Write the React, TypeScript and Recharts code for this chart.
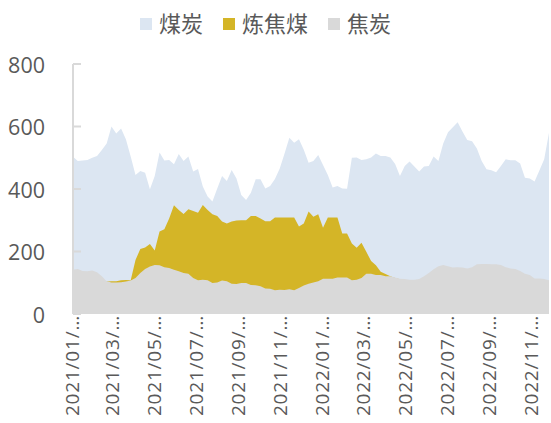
import React from "react";
import { AreaChart, Area, XAxis, YAxis } from "recharts";

// weekly observations, first one on 2021/01/01
const START = Date.UTC(2021, 0, 1);
const WEEK = 7 * 24 * 3600 * 1000;

const coal = [
  503, 490, 491, 493, 500, 506, 525, 546, 600, 578,
  594, 559, 504, 445, 458, 452, 399, 442, 517, 491,
  493, 479, 512, 490, 504, 456, 464, 408, 376, 360,
  402, 442, 426, 461, 434, 381, 365, 388, 431, 431,
  402, 410, 432, 466, 514, 564, 548, 559, 526, 484,
  490, 509, 477, 445, 405, 410, 402, 401, 500, 501,
  493, 495, 501, 514, 506, 506, 501, 480, 442, 474,
  488, 472, 456, 472, 474, 504, 490, 546, 582, 598,
  614, 584, 557, 553, 530, 490, 463, 460, 454, 474,
  495, 492, 492, 482, 436, 434, 424, 459, 495, 580,
];

const cokingCoal = [
  98, 97, 99, 98, 97, 99, 101, 104, 105, 105,
  108, 109, 108, 173, 208, 213, 224, 203, 264, 271,
  306, 348, 333, 320, 335, 330, 324, 349, 333, 319,
  314, 296, 290, 296, 299, 300, 300, 314, 314, 306,
  297, 297, 309, 309, 309, 309, 309, 280, 290, 328,
  311, 319, 276, 309, 309, 309, 258, 258, 226, 212,
  228, 199, 170, 156, 135, 128, 121, 115, 111, 108,
  106, 105, 104, 103, 104, 103, 102, 103, 104, 102,
  103, 102, 101, 102, 103, 102, 101, 102, 103, 102,
  101, 100, 102, 101, 100, 101, 100, 101, 100, 100,
];

const coke = [
  142, 144, 138, 137, 139, 134, 121, 105, 101, 101,
  102, 104, 107, 115, 131, 144, 152, 157, 156, 150,
  147, 142, 137, 131, 129, 115, 108, 110, 108, 99,
  101, 107, 105, 97, 96, 99, 99, 93, 92, 89,
  82, 81, 76, 78, 77, 79, 76, 83, 91, 97,
  101, 105, 113, 113, 113, 117, 117, 117, 108, 110,
  115, 129, 129, 125, 125, 121, 121, 117, 113, 112,
  110, 110, 112, 121, 131, 143, 153, 157, 153, 149,
  150, 149, 146, 150, 159, 160, 160, 159, 159, 157,
  150, 146, 144, 138, 129, 125, 114, 114, 112, 108,
];

const tickDates = [
  "2021/01/01", "2021/03/01", "2021/05/01", "2021/07/01", "2021/09/01", "2021/11/01",
  "2022/01/01", "2022/03/01", "2022/05/01", "2022/07/01", "2022/09/01", "2022/11/01",
];
const yTicks = [0, 200, 400, 600, 800];

const series = [
  { key: "coal", name: "煤炭", color: "#DCE6F2" },
  { key: "cokingCoal", name: "炼焦煤", color: "#D4B527" },
  { key: "coke", name: "焦炭", color: "#D9D9D9" },
];

const data = coal.map((v, i) => ({
  t: START + i * WEEK,
  coal: v,
  cokingCoal: cokingCoal[i],
  coke: coke[i],
}));

const toUtc = (s: string) => {
  const [y, m, d] = s.split("/").map(Number);
  return Date.UTC(y, m - 1, d);
};
const xTicks = tickDates.map(toUtc);

const TEXT = "#595959";

function XTick({ x, payload }: any) {
  const idx = xTicks.indexOf(payload.value);
  const label = (tickDates[idx] ?? "").slice(0, 8) + "…";
  const bx = x + 5.5;
  const by = 315;
  return (
    <text
      x={bx}
      y={by}
      transform={`rotate(-90 ${bx} ${by})`}
      textAnchor="end"
      fill={TEXT}
      fontSize={19}
      fontFamily="Open Sans"
      letterSpacing={0.8}
    >
      {label}
    </text>
  );
}

function YTick({ y, payload }: any) {
  return (
    <g>
      <line x1={73} x2={81} y1={y} y2={y} stroke="#D9D9D9" strokeWidth={2} />
      <text
        x={45}
        y={y}
        textAnchor="end"
        dominantBaseline="central"
        fill={TEXT}
        fontSize={21.5}
        fontFamily="Open Sans"
      >
        {payload.value}
      </text>
    </g>
  );
}

function TopLegend() {
  return (
    <div
      style={{
        position: "absolute",
        left: 140,
        top: 11,
        display: "flex",
        alignItems: "center",
        fontFamily: "'Noto Sans CJK SC'",
        fontSize: 22,
        lineHeight: "22px",
        color: TEXT,
      }}
    >
      {series.map((s, i) => (
        <div
          key={s.key}
          style={{ display: "flex", alignItems: "center", marginLeft: i === 0 ? 0 : 20 }}
        >
          <span
            style={{
              width: 12,
              height: 12,
              background: s.color,
              marginRight: 7,
              marginTop: 3,
              display: "inline-block",
            }}
          />
          <span>{s.name}</span>
        </div>
      ))}
    </div>
  );
}

export default function App() {
  return (
    <div style={{ position: "absolute", left: 0, top: 0, width: 551, height: 423, background: "#fff" }}>
      <AreaChart
        width={551}
        height={423}
        data={data}
        margin={{ top: 64, right: 2, bottom: 0, left: 0 }}
      >
        <XAxis
          dataKey="t"
          type="number"
          scale="time"
          domain={["dataMin", "dataMax"]}
          ticks={xTicks}
          tick={<XTick />}
          tickLine={false}
          axisLine={false}
          height={109}
          interval={0}
        />
        <YAxis
          domain={[0, 800]}
          ticks={yTicks}
          tick={<YTick />}
          tickLine={false}
          axisLine={{ stroke: "#D9D9D9", strokeWidth: 2 }}
          width={73}
          interval={0}
        />
        {series.map((s) => (
          <Area
            key={s.key}
            type="linear"
            dataKey={s.key}
            name={s.name}
            stroke="none"
            fill={s.color}
            fillOpacity={1}
            dot={false}
            activeDot={false}
            isAnimationActive={false}
          />
        ))}
      </AreaChart>
      <TopLegend />
    </div>
  );
}
